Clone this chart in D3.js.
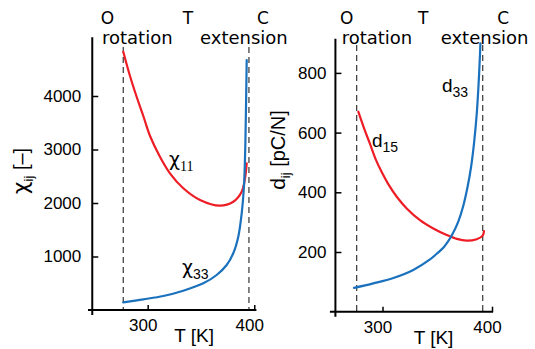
<!DOCTYPE html>
<html><head><meta charset="utf-8">
<script src="https://cdn.jsdelivr.net/npm/d3@7"></script>
<style>
body{margin:0;background:#fff;}
svg{display:block;}
text{font-family:"Liberation Sans",Arial,sans-serif;fill:#000;}
</style></head>
<body><svg id="c" width="535" height="349"></svg>
<script>
// ---- data ----
const chi11T = [277.1,283.4,289.7,295.9,302.2,311.5,320.9,333.4,349.1,367.8,380.3,388.2,391.3,392.9];
const chi11  = [4828,4374,3981,3626,3252,2865,2555,2275,2056,1950,2024,2211,2462,2742];
const chi33T = [277.1,295.9,314.6,333.4,352.2,364.7,374.1,380.3,385.0,388.2,390.3,391.5,392.2,392.9];
const chi33  = [144,200,262,361,499,654,841,1060,1370,1807,2299,2991,3738,4673];
const d15T = [277.9,283.1,288.6,294.1,299.5,305.0,313.0,322.1,334.2,346.4,358.6,367.8,376.9,386.0,391.5,392.7];
const d15  = [670,615,562,508,466,429,385,346,307,279,257,244,238,243,255,270];
const d33T = [274.0,291.6,309.9,328.1,343.4,349.5,355.5,359.2,363.2,369.2,373.8,377.8,380.8,383.6,386.0,387.7,389.0,389.4];
const d33  = [80,95,113,140,175,194,214,232,255,302,355,420,483,565,660,760,860,899];
const transL = [277.1, 395.0];
const transR = [276.4, 391.5];
const xTicks = [300, 400];
const yTicksL = [1000, 2000, 3000, 4000];
const yTicksR = [200, 400, 600, 800];
const phases = ["O", "T", "C"];
const mechanisms = ["rotation", "extension"];

const RED = "#ee1d25", BLUE = "#1a71bd";
const svg = d3.select("#c");

function panel(o){
  const g = svg.append("g");
  const x = d3.scaleLinear().domain(o.xd).range(o.xr);
  const y = d3.scaleLinear().domain(o.yd).range(o.yr);
  const ax0 = x(o.yAxisAt), ay0 = y(0);
  g.selectAll("line.tr").data(o.trans).join("line")
    .attr("x1", d=>x(d)).attr("x2", d=>x(d))
    .attr("y1", o.dashTop).attr("y2", ay0)
    .attr("stroke", "#444").attr("stroke-width", 1.3).attr("stroke-dasharray", "6,4");
  const ya = d3.axisLeft(y).tickValues(o.yTicks).tickFormat(d3.format("d"))
    .tickSizeInner(-6).tickSizeOuter(0).tickPadding(o.yPad);
  const yg = g.append("g").attr("transform", `translate(${ax0},0)`).call(ya);
  yg.select(".domain").remove();
  yg.selectAll("line").attr("stroke", "#000").attr("stroke-width", 1.5);
  yg.selectAll("text").attr("font-size", 17).style("font-family", '"Liberation Sans",Arial,sans-serif');
  const xa = d3.axisBottom(x).tickValues(xTicks).tickFormat(d3.format("d"))
    .tickSizeInner(-5).tickSizeOuter(0).tickPadding(9);
  const xg = g.append("g").attr("transform", `translate(0,${ay0})`).call(xa);
  xg.select(".domain").remove();
  xg.selectAll("line").attr("stroke", "#000").attr("stroke-width", 1.5);
  xg.selectAll("text").attr("font-size", 17).attr("dx", -5).style("font-family", '"Liberation Sans",Arial,sans-serif');
  g.append("line").attr("x1", ax0).attr("x2", ax0).attr("y1", o.yr[1]).attr("y2", ay0 + 5)
    .attr("stroke", "#000").attr("stroke-width", 2);
  g.append("line").attr("x1", o.xr[0]).attr("x2", o.xr[1]).attr("y1", ay0).attr("y2", ay0)
    .attr("stroke", "#000").attr("stroke-width", 2);
  const line = d3.line().x(d=>x(d[0])).y(d=>y(d[1])).curve(d3.curveCatmullRom.alpha(0.5));
  o.series.forEach(s=>{
    g.append("path").datum(s.t.map((t,i)=>[t, s.v[i]]))
      .attr("d", line).attr("fill", "none").attr("stroke", s.color)
      .attr("stroke-width", 2.2).attr("stroke-linecap", "round");
  });
  g.append("text").attr("x", (o.xr[0]+o.xr[1])/2 + 22).attr("y", ay0 + 32)
    .attr("text-anchor", "middle").attr("font-size", 19).text("T [K]");
  return {x, y, g};
}

panel({xd:[244,402], xr:[88,256.4], yd:[0,5100], yr:[310,37.15], yAxisAt:248,
  trans:transL, dashTop:47, yTicks:yTicksL, yPad:11,
  series:[{t:chi11T, v:chi11, color:RED},{t:chi33T, v:chi33, color:BLUE}]});
panel({xd:[252,401], xr:[329.94,493.1], yd:[0,914], yr:[311.7,38.87], yAxisAt:257,
  trans:transR, dashTop:45, yTicks:yTicksR, yPad:9,
  series:[{t:d15T, v:d15, color:RED},{t:d33T, v:d33, color:BLUE}]});

// top labels
const topFont = '"DejaVu Sans",Verdana,sans-serif';
function topLabels(ox, ot, oc, rx, ex){
  [[ox,phases[0]],[ot,phases[1]],[oc,phases[2]]].forEach(([px,t])=>{
    svg.append("text").attr("x", px).attr("y", 24).attr("text-anchor","middle")
      .attr("font-size", 17).style("font-family", topFont).text(t);
  });
  svg.append("text").attr("x", rx).attr("y", 44).attr("font-size", 18).style("font-family", topFont).text(mechanisms[0]);
  svg.append("text").attr("x", ex).attr("y", 44).attr("font-size", 18).style("font-family", topFont).text(mechanisms[1]);
}
topLabels(107.5, 188, 263, 102, 200);
topLabels(346.7, 423.3, 503.3, 341.7, 440.7);

// y titles
function ytitle(xb, yc, main, mainSize, sub, rest, fam){
  const t = svg.append("text").attr("transform", `translate(${xb},${yc}) rotate(-90)`)
    .attr("text-anchor", "middle").attr("font-size", 20);
  t.append("tspan").attr("font-size", mainSize).style("font-family", fam).text(main);
  t.append("tspan").attr("font-size", 13).attr("dy", 5).text(sub);
  t.append("tspan").attr("dy", -5).text(rest);
}
ytitle(28, 171, "χ", 22, "ij", " [–]", '"DejaVu Sans",sans-serif');
ytitle(285, 150, "d", 21, "ij", " [pC/N]", '"Liberation Sans",Arial,sans-serif');

// curve labels
function clabel(px, py, main, sub, fam, subFam){
  const t = svg.append("text").attr("x", px).attr("y", py).attr("font-size", 19);
  t.append("tspan").style("font-family", fam).text(main);
  t.append("tspan").attr("font-size", 14).attr("dy", 5).style("font-family", subFam).text(sub);
}
clabel(169, 166, "χ", "11", '"DejaVu Sans",sans-serif', '"Liberation Serif",serif');
clabel(182, 274, "χ", "33", '"DejaVu Sans",sans-serif', '"Liberation Sans",sans-serif');
clabel(372, 147, "d", "15", '"Liberation Sans",sans-serif', '"Liberation Sans",sans-serif');
clabel(442, 92, "d", "33", '"Liberation Sans",sans-serif', '"Liberation Sans",sans-serif');
</script></body></html>
